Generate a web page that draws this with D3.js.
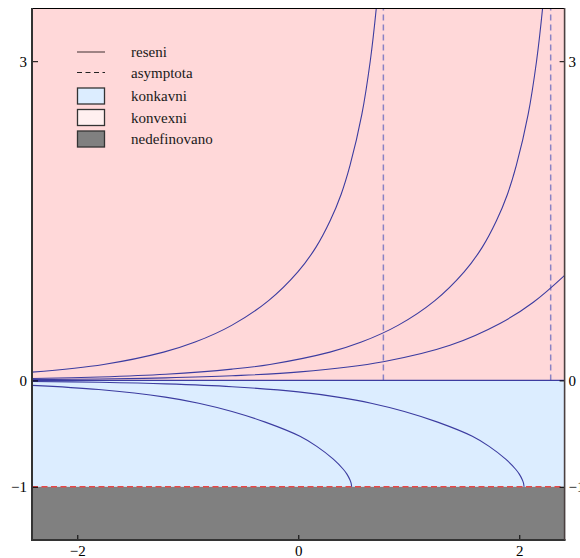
<!DOCTYPE html>
<html>
<head>
<meta charset="utf-8">
<script src="https://cdn.jsdelivr.net/npm/d3@7"></script>
<style>
  body { margin: 0; background: #fff; }
  svg text { font-family: "Liberation Serif", "Times New Roman", Times, "DejaVu Serif", "Noto Serif", serif; }
</style>
</head>
<body>
<div id="chart"></div>
<script>
// axis ranges and ticks
const xDomain = [-2.41, 2.41];
const yDomain = [-1.5, 3.5];
const xTicks = [-2, 0, 2];
const yTicks = [-1, 0, 3];

// boundaries between regions (convex above 0, concave between -1 and 0, undefined below -1)
const regionBounds = [3.5, 0, -1, -1.5];
const asymptotes = [0.77, 2.284];
const undefinedLevel = -1;

// solution curves, [x, y]
const zeroSolution = [[-2.41, 0], [2.41, 0]];
const solutionA = [[-2.41, 0.078], [-1.762, 0.15], [-1.219, 0.266], [-0.934, 0.36], [-0.603, 0.517],
  [-0.269, 0.75], [-0.004, 1.02], [0.159, 1.25], [0.288, 1.5], [0.388, 1.75], [0.468, 2.02],
  [0.575, 2.5], [0.651, 3.0], [0.706, 3.5], [0.748, 4.0]];
const solutionB = [[-2.41, 0.0173], [-1.8, 0.032], [-1.2, 0.058], [-0.6, 0.106], [-0.257, 0.15],
  [0.286, 0.266], [0.571, 0.36], [0.902, 0.517], [1.236, 0.75], [1.501, 1.02], [1.664, 1.25],
  [1.793, 1.5], [1.893, 1.75], [1.973, 2.02], [2.08, 2.5], [2.156, 3.0], [2.211, 3.5], [2.253, 4.0]];
const solutionC = [[-2.41, 0.0071], [-1.8, 0.013], [-1.2, 0.0237], [-0.6, 0.0433], [0.015, 0.08],
  [0.769, 0.176], [1.373, 0.33], [1.825, 0.535], [2.127, 0.735], [2.413, 0.99], [2.5, 1.08]];
const solutionD = [[-2.41, -0.047], [-1.806, -0.086], [-1.204, -0.157], [-0.901, -0.214], [-0.6, -0.292],
  [-0.299, -0.392], [0.015, -0.525], [0.167, -0.62], [0.317, -0.74], [0.407, -0.835],
  [0.44, -0.881], [0.468, -0.936], [0.478, -0.966], [0.483, -1.0]];
const solutionE = [[-2.41, -0.0098], [-1.8, -0.018], [-1.2, -0.0325], [-0.6, -0.059], [0.0, -0.108],
  [0.356, -0.157], [0.659, -0.214], [0.96, -0.292], [1.261, -0.392], [1.575, -0.525], [1.727, -0.62],
  [1.877, -0.74], [1.967, -0.835], [2.0, -0.881], [2.028, -0.936], [2.038, -0.966], [2.043, -1.0]];

const legendLabels = ['reseni', 'asymptota', 'konkavni', 'konvexni', 'nedefinovano'];

const width = 580;
const height = 558;
const plotLeft = 32, plotRight = 564.6, plotTop = 8, plotBottom = 540;
const serif = '"Liberation Serif", "Times New Roman", Times, "DejaVu Serif", "Noto Serif", serif';

const x = d3.scaleLinear().domain(xDomain).range([plotLeft, plotRight]);
const y = d3.scaleLinear().domain(yDomain).range([plotBottom, plotTop]);

const svg = d3.select('#chart').append('svg')
  .attr('width', width)
  .attr('height', height);

svg.append('defs').append('clipPath').attr('id', 'plot')
  .append('rect')
    .attr('x', plotLeft).attr('y', plotTop)
    .attr('width', plotRight - plotLeft).attr('height', plotBottom - plotTop);

// background regions
const regionColours = ['#ffd8d9', '#dcedff', '#808080'];
svg.append('g').selectAll('rect')
  .data(regionColours)
  .enter()
  .append('rect')
    .attr('x', plotLeft)
    .attr('width', plotRight - plotLeft)
    .attr('y', (d, i) => y(regionBounds[i]))
    .attr('height', (d, i) => y(regionBounds[i + 1]) - y(regionBounds[i]))
    .attr('fill', d => d);

const plot = svg.append('g').attr('clip-path', 'url(#plot)');

// undefined boundary
plot.append('line')
  .attr('x1', plotLeft).attr('x2', plotRight)
  .attr('y1', y(undefinedLevel)).attr('y2', y(undefinedLevel))
  .attr('stroke', '#e84848')
  .attr('stroke-width', 1.6)
  .attr('stroke-dasharray', '6,3.5');

// asymptotes
plot.selectAll('.asym')
  .data(asymptotes)
  .enter()
  .append('line')
    .attr('class', 'asym')
    .attr('x1', d => x(d)).attr('x2', d => x(d))
    .attr('y1', y(0)).attr('y2', y(yDomain[1]))
    .attr('stroke', '#8a82c4')
    .attr('stroke-width', 1.5)
    .attr('stroke-dasharray', '6,4');

// solutions
const line = d3.line()
  .x(d => x(d[0]))
  .y(d => y(d[1]))
  .curve(d3.curveCatmullRom.alpha(0.5));

plot.selectAll('.sol')
  .data([zeroSolution, solutionA, solutionB, solutionC, solutionD, solutionE])
  .enter()
  .append('path')
    .attr('class', 'sol')
    .attr('d', line)
    .attr('fill', 'none')
    .attr('stroke', '#3c3ca0')
    .attr('stroke-width', 1.1);

// axes
const fmt = d3.format('d');
const axisStyle = g => {
  g.attr('font-family', serif).attr('font-size', 15);
  g.select('.domain').remove();
  g.selectAll('text').attr('fill', '#000');
  g.selectAll('line').attr('stroke', '#000');
};

svg.append('g')
  .attr('transform', `translate(${plotLeft},0)`)
  .call(d3.axisLeft(y).tickValues(yTicks).tickFormat(fmt).tickSize(-6).tickPadding(5))
  .call(axisStyle);

svg.append('g')
  .attr('transform', `translate(${plotRight},0)`)
  .call(d3.axisRight(y).tickValues(yTicks).tickFormat(fmt).tickSize(-5).tickPadding(4))
  .call(axisStyle);

svg.append('g')
  .attr('transform', `translate(0,${plotBottom})`)
  .call(d3.axisBottom(x).tickValues(xTicks).tickFormat(fmt).tickSize(-5).tickPadding(5))
  .call(axisStyle);

// frame
svg.append('line').attr('x1', plotLeft).attr('x2', plotRight).attr('y1', plotTop + 0.5).attr('y2', plotTop + 0.5)
  .attr('stroke', '#000').attr('stroke-width', 1);
svg.append('line').attr('x1', plotLeft).attr('x2', plotLeft).attr('y1', plotTop).attr('y2', plotBottom + 1)
  .attr('stroke', '#333').attr('stroke-width', 2);
svg.append('line').attr('x1', plotLeft).attr('x2', plotRight + 1).attr('y1', plotBottom).attr('y2', plotBottom)
  .attr('stroke', '#333').attr('stroke-width', 2);
svg.append('line').attr('x1', plotRight).attr('x2', plotRight).attr('y1', plotTop).attr('y2', plotBottom)
  .attr('stroke', '#4a4040').attr('stroke-width', 1.6);

// legend
const legend = svg.append('g').attr('font-family', serif);
const rowY = [52, 72.5, 96, 117.5, 139];
const symX = 77, symW = 28, textX = 131;

legend.selectAll('text')
  .data(legendLabels)
  .enter()
  .append('text')
    .attr('x', textX)
    .attr('y', (d, i) => rowY[i] + 5)
    .attr('font-size', 15)
    .attr('fill', '#1a1a1a')
    .text(d => d);

legend.append('line')
  .attr('x1', symX).attr('x2', symX + symW)
  .attr('y1', rowY[0]).attr('y2', rowY[0])
  .attr('stroke', '#6a5656').attr('stroke-width', 1.3);
legend.append('line')
  .attr('x1', symX).attr('x2', symX + symW)
  .attr('y1', rowY[1]).attr('y2', rowY[1])
  .attr('stroke', '#222').attr('stroke-width', 1.2)
  .attr('stroke-dasharray', '5,3.5');

const boxFills = ['#dcedff', '#fff0f0', '#808080'];
legend.selectAll('rect')
  .data(boxFills)
  .enter()
  .append('rect')
    .attr('x', symX + 0.5)
    .attr('y', (d, i) => rowY[i + 2] - 8)
    .attr('width', symW - 1)
    .attr('height', 16)
    .attr('fill', d => d)
    .attr('stroke', '#333')
    .attr('stroke-width', 1.3);
</script>
</body>
</html>
